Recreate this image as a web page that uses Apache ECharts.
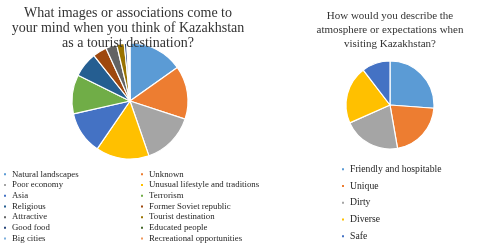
<!DOCTYPE html>
<html><head><meta charset="utf-8">
<script src="https://cdn.jsdelivr.net/npm/echarts@6/dist/echarts.min.js"></script>
<style>html,body{margin:0;padding:0;background:#fff}#c{width:480px;height:252px}</style>
</head><body><div id="c"></div>
<script>
const leftTitle = "What images or associations come to\nyour mind when you think of Kazakhstan\nas a tourist destination?";
const rightTitle = "How would you describe the\natmosphere or expectations when\nvisiting Kazakhstan?";
const leftCategories = ["Natural landscapes","Unknown","Poor economy","Unusual lifestyle and traditions","Asia","Terrorism","Religious","Former Soviet republic","Attractive","Tourist destination","Good food","Educated people","Big cities","Recreational opportunities"];
const leftValues = [15.2,14.9,14.7,14.9,11.9,10.9,7.0,3.9,3.1,2.1,0.7,0.3,0.3,0.3];
const rightCategories = ["Friendly and hospitable","Unique","Dirty","Diverse","Safe"];
const rightValues = [26.2,21.1,21.1,21.3,10.4];
const palette = ["#5B9BD5","#ED7D31","#A5A5A5","#FFC000","#4472C4","#70AD47","#255E91","#9E480E","#636363","#997300","#264478","#43682B","#7CAFDD","#F1975A"];

const chart = echarts.init(document.getElementById('c'));
const serif = "'Liberation Serif', 'DejaVu Serif', serif";
function mk(names, vals){ return names.map((n,i)=>({name:n, value:vals[i], itemStyle:{color:palette[i]}})); }
const legendBase = {orient:'vertical', icon:'rect', itemWidth:4, itemHeight:4, itemGap:0, selectedMode:false,
  textStyle:{fontFamily:serif, fontSize:8.8, color:'#262626', lineHeight:10.7}, padding:0};
chart.setOption({
  animation:false,
  color: palette,
  title:[
    {text:leftTitle, left:123, top:1, textAlign:'center', textStyle:{fontFamily:serif, fontSize:14, fontWeight:'normal', color:'#333', lineHeight:15}},
    {text:rightTitle, left:385, top:4, textAlign:'center', textStyle:{fontFamily:serif, fontSize:11, fontWeight:'normal', color:'#333', lineHeight:14}}
  ],
  legend:[
    Object.assign({}, legendBase, {left:2, top:169, data:leftCategories.filter((_,i)=>i%2===0)}),
    Object.assign({}, legendBase, {left:139, top:169, data:leftCategories.filter((_,i)=>i%2===1)}),
    Object.assign({}, legendBase, {left:340, top:164, itemGap:6, textStyle:Object.assign({}, legendBase.textStyle, {fontSize:9.7}), data:rightCategories})
  ],
  series:[
    {type:'pie', center:[130,101], radius:58, startAngle:90, label:{show:false}, labelLine:{show:false},
     emphasis:{disabled:true}, itemStyle:{borderColor:'#fff', borderWidth:1.2}, data:mk(leftCategories,leftValues)},
    {type:'pie', center:[390,105], radius:44, startAngle:90, label:{show:false}, labelLine:{show:false},
     emphasis:{disabled:true}, itemStyle:{borderColor:'#fff', borderWidth:1.2}, data:mk(rightCategories,rightValues)}
  ]
});
</script></body></html>
